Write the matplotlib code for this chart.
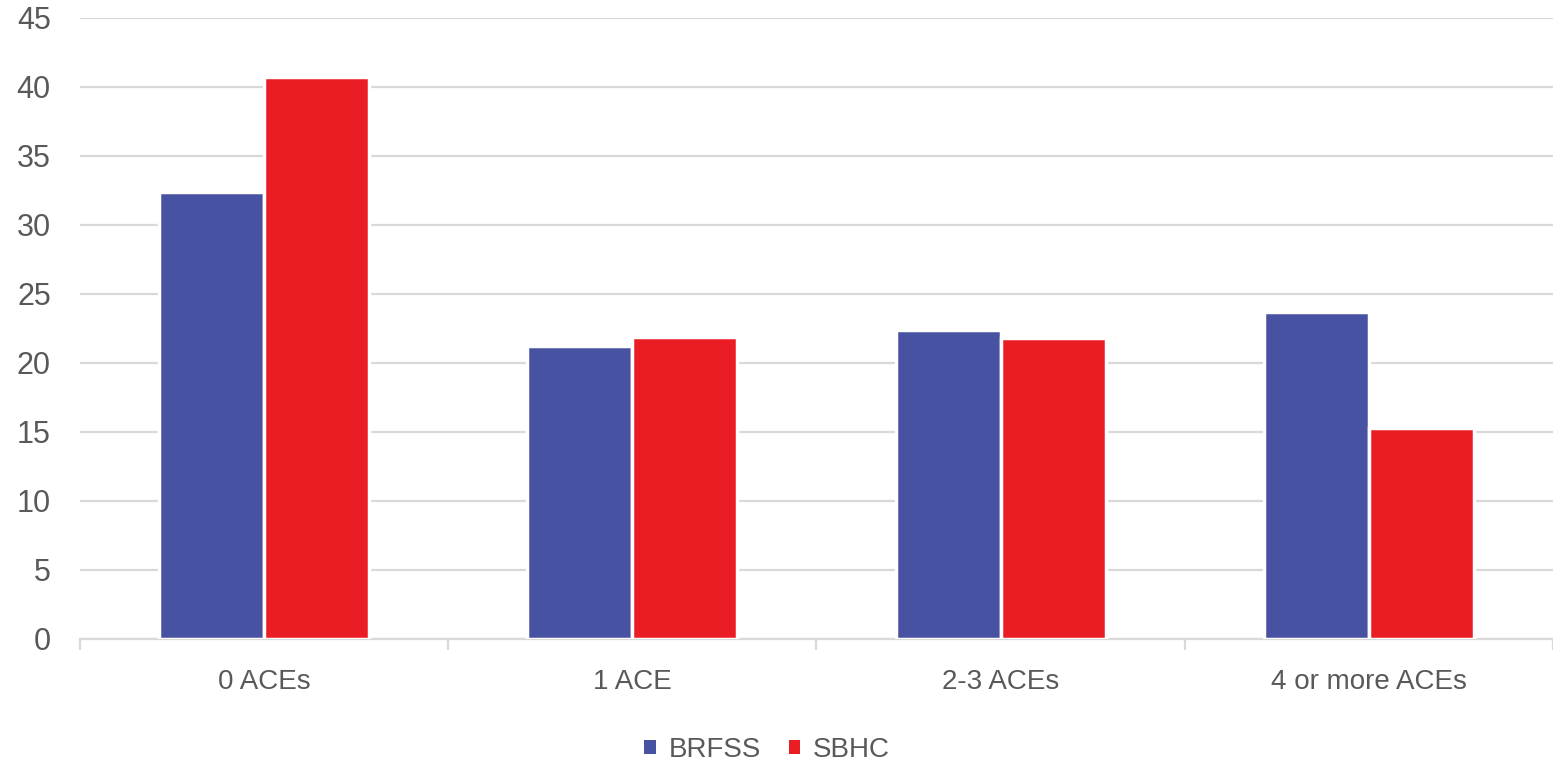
import matplotlib

matplotlib.use("Agg")
import matplotlib.pyplot as plt
import numpy as np
from matplotlib.patches import Patch

categories = ["0 ACEs", "1 ACE", "2-3 ACEs", "4 or more ACEs"]
brfss = [32.4, 21.2, 22.4, 23.7]
sbhc = [40.7, 21.9, 21.8, 15.3]

BLUE = "#4753A2"
RED = "#EA1D25"
TEXT = "#595959"
GRID = "#D9D9D9"

plt.rcParams["font.family"] = ["Liberation Sans", "DejaVu Sans"]

fig = plt.figure(figsize=(15.53, 7.65), dpi=100)
ax = fig.add_axes([0.0515, 0.165, 0.9485, 0.8115])

x = np.arange(len(categories))
w = 0.285
ax.bar(x - w / 2, brfss, width=w, color=BLUE, edgecolor="white", linewidth=2.5, zorder=3)
ax.bar(x + w / 2, sbhc, width=w, color=RED, edgecolor="white", linewidth=2.5, zorder=3)

ax.set_xlim(-0.5, len(categories) - 0.5)
ax.set_ylim(0, 45)
ax.set_yticks(range(0, 46, 5))
ax.yaxis.grid(True, color=GRID, linewidth=1.6, zorder=0)
ax.set_axisbelow(True)

for s in ["top", "right", "left"]:
    ax.spines[s].set_visible(False)
ax.spines["bottom"].set_color(GRID)
ax.spines["bottom"].set_linewidth(1.6)

ax.set_xticks(x)
ax.set_xticklabels(categories)
ax.set_xticks(np.arange(-0.5, len(categories), 1.0), minor=True)
ax.tick_params(axis="x", which="major", length=0, pad=22, labelsize=20, labelcolor=TEXT)
ax.tick_params(axis="x", which="minor", length=8, width=1.6, color=GRID)
ax.tick_params(axis="y", length=0, pad=21, labelsize=22, labelcolor=TEXT)

handles = [Patch(facecolor=BLUE, label="BRFSS"), Patch(facecolor=RED, label="SBHC")]
fig.legend(
    handles=handles,
    loc="center",
    bbox_to_anchor=(0.494, 0.02),
    ncol=2,
    frameon=False,
    fontsize=20,
    labelcolor=TEXT,
    handlelength=0.42,
    handleheight=0.42,
    handletextpad=0.45,
    columnspacing=1.0,
)

fig.savefig("out.png", dpi=100)
